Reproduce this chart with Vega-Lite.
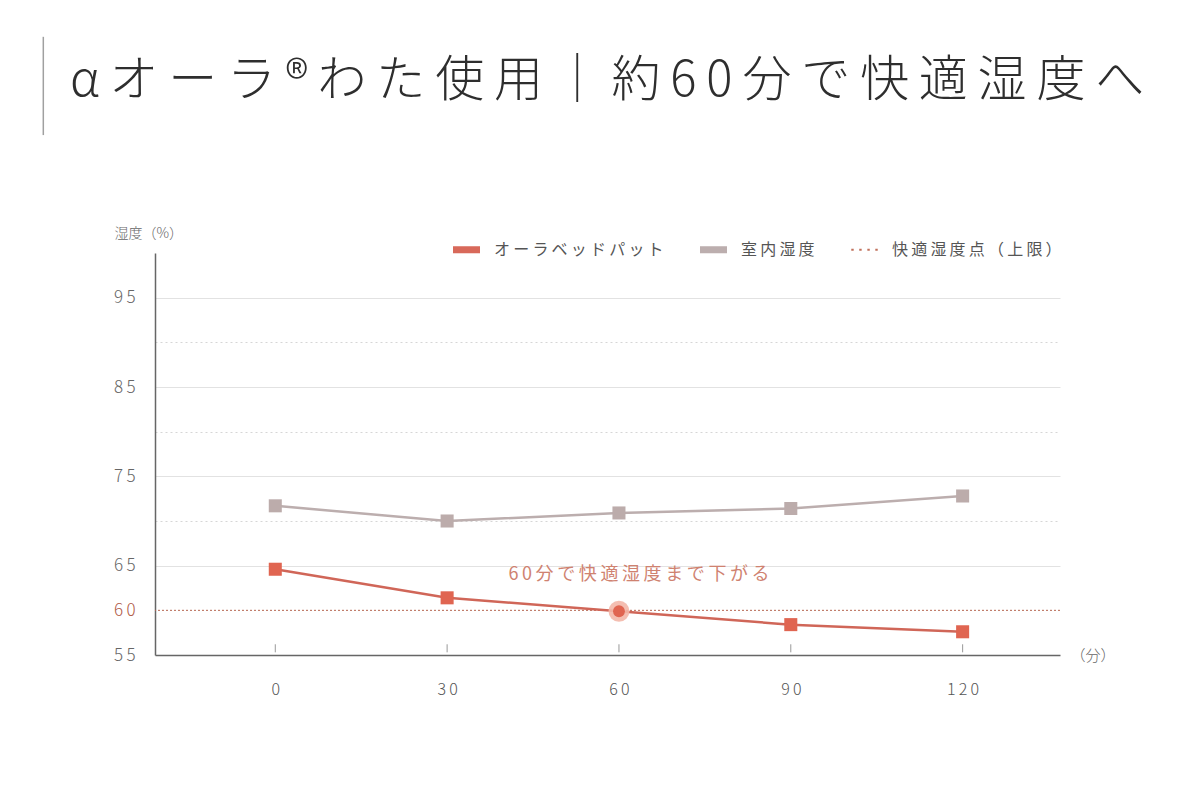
{
  "$schema": "https://vega.github.io/schema/vega-lite/v6.json",
  "width": 905,
  "height": 402,
  "autosize": {"type": "none"},
  "padding": {"left": 155, "top": 253, "right": 140, "bottom": 145},
  "background": "#ffffff",
  "title": {
    "text": "α\u2009オ\u2009ー\u2009ラ\u2009®\u2009わ\u2009た\u2009使\u2009用\u2009｜\u2009約\u20096\u20090\u2009分\u2009で\u2009快\u2009適\u2009湿\u2009度\u2009へ",
    "anchor": "start",
    "frame": "group",
    "dx": -85,
    "offset": -70,
    "font": "Noto Sans CJK JP",
    "fontSize": 49,
    "fontWeight": 300,
    "color": "#2e2e2e"
  },
  "datasets": {
    "humidity": [
      {"min": 0, "series": "オーラベッドパット", "value": 64.6},
      {"min": 30, "series": "オーラベッドパット", "value": 61.4},
      {"min": 60, "series": "オーラベッドパット", "value": 59.9},
      {"min": 90, "series": "オーラベッドパット", "value": 58.4},
      {"min": 120, "series": "オーラベッドパット", "value": 57.6},
      {"min": 0, "series": "室内湿度", "value": 71.7},
      {"min": 30, "series": "室内湿度", "value": 70.0},
      {"min": 60, "series": "室内湿度", "value": 70.9},
      {"min": 90, "series": "室内湿度", "value": 71.4},
      {"min": 120, "series": "室内湿度", "value": 72.8}
    ],
    "legendItems": [
      {"series": "オーラベッドパット"},
      {"series": "室内湿度"},
      {"series": "快適湿度点（上限）"}
    ]
  },
  "data": {"name": "humidity"},
  "encoding": {
    "x": {
      "field": "min",
      "type": "quantitative",
      "scale": {"domain": [-21, 137], "nice": false, "zero": false},
      "axis": {
        "values": [0, 30, 60, 90, 120],
        "labelExpr": "join(split(datum.label, ''), '\u2009')",
        "grid": false,
        "domainColor": "#666666",
        "domainWidth": 1.5,
        "ticks": false,
        "labelPadding": 26,
        "labelFont": "Noto Sans CJK JP",
        "labelFontSize": 16,
        "labelFontWeight": 300,
        "labelColor": "#555555",
        "title": "（分）",
        "titleFont": "Noto Sans CJK JP",
        "titleFontSize": 15,
        "titleFontWeight": 300,
        "titleColor": "#666666",
        "titleAlign": "left",
        "titleAnchor": "start",
        "titleX": 915,
        "titleY": 0,
        "titleBaseline": "middle"
      }
    },
    "y": {
      "field": "value",
      "type": "quantitative",
      "scale": {"domain": [55, 100], "nice": false, "zero": false},
      "axis": {
        "values": [55, 60, 65, 70, 75, 80, 85, 90, 95],
        "labelExpr": "(datum.value == 70 || datum.value == 80 || datum.value == 90) ? '' : join(split(datum.label, ''), '\u2009')",
        "ticks": false,
        "domainColor": "#666666",
        "domainWidth": 1.5,
        "labelPadding": 20,
        "labelFont": "Noto Sans CJK JP",
        "labelFontSize": 17,
        "labelFontWeight": 300,
        "labelColor": {"condition": {"test": "datum.value == 60", "value": "#b05a46"}, "value": "#666666"},
        "grid": true,
        "gridColor": {"condition": {"test": "datum.value == 70 || datum.value == 80 || datum.value == 90", "value": "#d6d6d6"}, "value": "#e2e2e2"},
        "gridDash": {"condition": {"test": "datum.value == 70 || datum.value == 80 || datum.value == 90", "value": [2, 3]}, "value": []},
        "gridOpacity": {"condition": {"test": "datum.value <= 60", "value": 0}, "value": 1},
        "title": "湿度（%）",
        "titleAngle": 0,
        "titleFont": "Noto Sans CJK JP",
        "titleFontSize": 14,
        "titleFontWeight": 300,
        "titleColor": "#666666",
        "titleAlign": "left",
        "titleBaseline": "middle",
        "titleX": -41,
        "titleY": -20
      }
    }
  },
  "layer": [
    {
      "transform": [{"filter": "datum.series == '室内湿度' && datum.min == 0"}],
      "mark": {"type": "rule", "color": "#b5644f", "strokeWidth": 1, "strokeDash": [2, 2]},
      "encoding": {"y": {"datum": 60}, "x": null}
    },
    {
      "transform": [{"filter": "datum.series == '室内湿度'"}],
      "mark": {"type": "rule", "color": "#999999", "strokeWidth": 1},
      "encoding": {"y": {"datum": 55.3}, "y2": {"datum": 56.2}}
    },
    {
      "transform": [{"filter": "datum.series == '室内湿度'"}],
      "mark": {"type": "line", "color": "#bcaeae", "strokeWidth": 2.5},
      "encoding": {}
    },
    {
      "transform": [{"filter": "datum.series == 'オーラベッドパット'"}],
      "mark": {"type": "line", "color": "#d06658", "strokeWidth": 2.5},
      "encoding": {}
    },
    {
      "transform": [{"filter": "datum.series == '室内湿度'"}],
      "mark": {"type": "point", "shape": "square", "filled": true, "size": 170, "color": "#bcacab", "opacity": 1},
      "encoding": {}
    },
    {
      "transform": [{"filter": "datum.series == 'オーラベッドパット' && datum.min != 60"}],
      "mark": {"type": "point", "shape": "square", "filled": true, "size": 170, "color": "#e06551", "opacity": 1},
      "encoding": {}
    },
    {
      "transform": [{"filter": "datum.series == 'オーラベッドパット' && datum.min == 60"}],
      "mark": {"type": "circle", "size": 440, "color": "#f3b7a9", "opacity": 0.9},
      "encoding": {}
    },
    {
      "transform": [{"filter": "datum.series == 'オーラベッドパット' && datum.min == 60"}],
      "mark": {"type": "circle", "size": 140, "color": "#e06551", "opacity": 1},
      "encoding": {}
    },
    {
      "transform": [{"filter": "datum.series == '室内湿度' && datum.min == 0"}],
      "mark": {
        "type": "text",
        "text": "6\u20090\u2009分\u2009で\u2009快\u2009適\u2009湿\u2009度\u2009ま\u2009で\u2009下\u2009が\u2009る",
        "font": "Noto Sans CJK JP",
        "fontSize": 18,
        "fontWeight": "normal",
        "color": "#cf8270",
        "align": "center",
        "baseline": "middle"
      },
      "encoding": {"x": {"datum": 63.5}, "y": {"datum": 63.9}}
    },
    {
      "transform": [{"filter": "datum.series == '室内湿度' && datum.min == 0"}],
      "mark": {"type": "rule", "color": "#a0a0a0", "strokeWidth": 1.5},
      "encoding": {"x": {"datum": -40.5}, "y": {"datum": 124.2}, "y2": {"datum": 113.2}}
    },
    {
      "data": {"name": "legendItems"},
      "mark": {"type": "point", "filled": true, "opacity": 0, "size": 729},
      "encoding": {
        "x": null,
        "y": null,
        "color": {
          "field": "series",
          "type": "nominal",
          "scale": {
            "domain": ["オーラベッドパット", "室内湿度", "快適湿度点（上限）"],
            "range": ["#d8695a", "#bcaeae", "#c0705b"]
          },
          "legend": {
            "title": null,
            "orient": "none",
            "direction": "horizontal",
            "legendX": 298,
            "legendY": -17,
            "symbolSize": 729,
            "symbolOpacity": 1,
            "symbolStrokeWidth": 0,
            "labelOffset": 14,
            "labelLimit": 400,
            "columnPadding": 36,
            "labelExpr": "join(split(datum.label, ''), '\u2009')",
            "labelFont": "Noto Sans CJK JP",
            "labelFontSize": 16,
            "labelFontWeight": "normal",
            "labelColor": "#555555"
          }
        },
        "shape": {
          "field": "series",
          "type": "nominal",
          "scale": {
            "domain": ["オーラベッドパット", "室内湿度", "快適湿度点（上限）"],
            "range": [
              "M-1,-0.26H1V0.26H-1Z",
              "M-1,-0.26H1V0.26H-1Z",
              "M-0.98,-0.08H-0.8V0.08H-0.98Z M-0.39,-0.08H-0.21V0.08H-0.39Z M0.21,-0.08H0.39V0.08H0.21Z M0.8,-0.08H0.98V0.08H0.8Z"
            ]
          },
          "legend": {
            "title": null,
            "orient": "none",
            "direction": "horizontal",
            "legendX": 298,
            "legendY": -17,
            "symbolSize": 729,
            "symbolOpacity": 1,
            "symbolStrokeWidth": 0,
            "labelOffset": 14,
            "labelLimit": 400,
            "columnPadding": 36,
            "labelExpr": "join(split(datum.label, ''), '\u2009')",
            "labelFont": "Noto Sans CJK JP",
            "labelFontSize": 16,
            "labelFontWeight": "normal",
            "labelColor": "#555555"
          }
        }
      }
    }
  ],
  "config": {
    "view": {"stroke": null},
    "font": "Noto Sans CJK JP"
  }
}
